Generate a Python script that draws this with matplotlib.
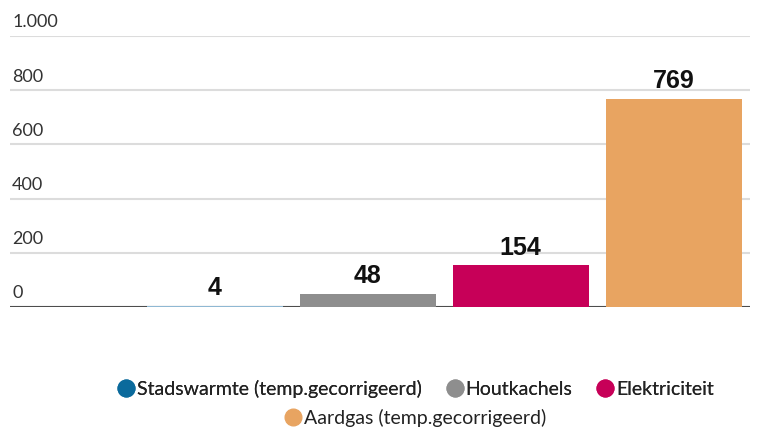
import matplotlib
matplotlib.use("Agg")
import matplotlib.pyplot as plt
from matplotlib.lines import Line2D
from matplotlib.transforms import blended_transform_factory, ScaledTranslation

# ==========================
# Data
# ==========================
categories = ["Stadswarmte (temp.gecorrigeerd)", "Houtkachels", "Elektriciteit",
              "Aardgas (temp.gecorrigeerd)"]
values = [4, 48, 154, 769]
colors = ["#0b6a9c", "#8e8e8e", "#c70058", "#e8a461"]
bar_colors = ["#8fb8d3", "#8e8e8e", "#c70058", "#e8a461"]
yticks = [0, 200, 400, 600, 800, 1000]
ytick_labels = ["0", "200", "400", "600", "800", "1.000"]

plt.rcParams["font.family"] = ["Lato", "DejaVu Sans"]

# ==========================
# Figure
# ==========================
fig = plt.figure(figsize=(7.65, 4.33), dpi=100)
ax = fig.add_axes([10 / 765, 126 / 433, 740 / 765, 271 / 433])

x = list(range(len(values)))
ax.bar(x, values, width=0.89, color=bar_colors, zorder=3)

for xi, v in zip(x, values):
    ax.annotate(str(v), (xi, v), xytext=(0, 4), textcoords="offset points",
                ha="center", va="bottom", fontsize=18, fontweight="bold",
                family="Liberation Sans", color="#111111")

ax.set_xlim(-1.34, 3.5)
ax.set_ylim(0, 1000)
ax.set_yticks(yticks)
ax.set_yticklabels([])
ax.set_xticks([])
ax.tick_params(axis="y", length=0)
ax.grid(axis="y", color="#dcdcdc", linewidth=1.5, zorder=0)
ax.axhline(0, color="#4d4d4d", linewidth=1.5, zorder=2)

# tick labels sit above the grid lines, left aligned
trans = blended_transform_factory(ax.transAxes, ax.transData) + \
    ScaledTranslation(0, 4 / 72, fig.dpi_scale_trans)
for t, lab in zip(yticks, ytick_labels):
    ax.text(0.003, t, lab, transform=trans, ha="left", va="bottom",
            fontsize=13, color="#333333")

for s in ["top", "right", "left", "bottom"]:
    ax.spines[s].set_visible(False)

# ==========================
# Legend (two centred rows)
# ==========================
handles = [Line2D([], [], marker="o", linestyle="", markersize=12,
                  markerfacecolor=c, markeredgecolor=c) for c in colors]
leg1 = fig.legend(handles[:3], categories[:3], loc="center", ncol=3,
                  bbox_to_anchor=(415 / 765, 1 - 389 / 433), frameon=False,
                  fontsize=14, handletextpad=0.05, columnspacing=1.2,
                  handlelength=1.0, borderaxespad=0, labelcolor="#222222")
fig.add_artist(leg1)
fig.legend(handles[3:], categories[3:], loc="center", ncol=1,
           bbox_to_anchor=(415 / 765, 1 - 418 / 433), frameon=False,
           fontsize=14, handletextpad=0.05, handlelength=1.0, borderaxespad=0,
           labelcolor="#222222")

plt.savefig("out.png", dpi=100)
